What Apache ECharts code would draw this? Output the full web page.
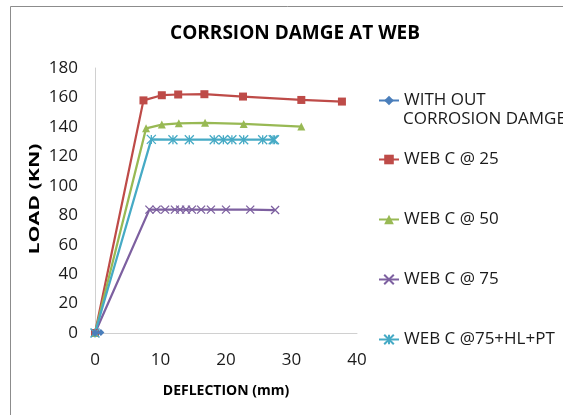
<!DOCTYPE html>
<html><head><meta charset="utf-8">
<script src="https://cdn.jsdelivr.net/npm/echarts@6/dist/echarts.min.js"></script>
<style>html,body{margin:0;padding:0;background:#fff}#c{width:563px;height:415px}</style>
</head><body><div id="c"></div>
<script>
var seriesNames = ['WITH OUT CORROSION DAMGE','WEB C @ 25','WEB C @ 50','WEB C @ 75','WEB C @75+HL+PT'];
var noDamage = [[0,0],[0.9,0.3]];
var web25 = [[0,0],[7.4,158],[10.2,161.5],[12.7,162],[16.7,162.2],[22.6,160.6],[31.5,158.3],[37.7,157.2]];
var web50 = [[0,0],[7.8,139],[10.2,141.6],[12.8,142.4],[16.8,142.8],[22.7,142],[31.5,140.2]];
var web75 = [[0,0],[8.3,83.8],[9.4,83.8],[10.7,83.8],[12.2,83.8],[13,83.8],[13.9,83.8],[14.8,83.8],[16.2,83.8],[17.7,83.8],[20,83.8],[23.7,83.8],[27.5,83.5]];
var web75hl = [[0,0],[8.6,131.5],[11.9,131.3],[14.4,131.3],[18.2,131.3],[19.6,131.3],[20.9,131.3],[22.7,131.3],[25.6,131.3],[27.2,131.3],[27.4,131.3]];
var xTicks = {min:0,max:40,interval:10};
var yTicks = {min:0,max:180,interval:20};

var colors = ['#4a7ebb','#be4b48','#98b954','#7d60a0','#46aac5'];
var FONT = '"Open Sans", sans-serif';
var xSym = 'path://M0,0L10,10M10,0L0,10';
var starSym = 'path://M0,0L10,10M10,0L0,10M5,0L5,10';
var datas = [noDamage, web25, web50, web75, web75hl];
var symbols = ['diamond','rect','triangle',xSym,starSym];
var sizes = [7,8,8,8,9];
var series = seriesNames.map(function(n,i){
  var stroke = i>=3;
  return {
    name:n, type:'line', data:datas[i], smooth:false,
    symbol:symbols[i], symbolSize:sizes[i], showSymbol:true,
    lineStyle:{color:colors[i],width:2.25},
    itemStyle: stroke ? {color:colors[i],borderColor:colors[i],borderWidth:1.3} : {color:colors[i]},
    z: i===0?10:2
  };
});
var legendTops = [92,151,211,271,331];
var legends = seriesNames.map(function(n,i){
  return {
    data:[n], left:378, top:legendTops[i], itemWidth:20, itemHeight:12, itemGap:0, padding:0,
    textStyle:{fontFamily:FONT,fontSize:17,color:'#1a1a1a'},
    formatter: function(name){ return name==='WITH OUT CORROSION DAMGE' ? 'WITH OUT' : name; },
    selectedMode:false
  };
});
var chart = echarts.init(document.getElementById('c'));
chart.setOption({
  animation:false,
  color:colors,
  title:{text:'CORRSION DAMGE AT WEB',left:290,textAlign:'center',top:19,
    textStyle:{fontFamily:FONT,fontSize:19,fontWeight:'bold',color:'#000'}},
  graphic:[
    {type:'rect',shape:{x:10.5,y:6.5,width:600,height:500},style:{fill:'none',stroke:'#8c8c8c',lineWidth:1},silent:true},
    {type:'text',left:403,top:111,style:{text:'CORROSION DAMGE',font:'17px "Open Sans", sans-serif',fill:'#1a1a1a'}},
    {type:'text',x:35,y:199,rotation:Math.PI/2,scaleX:1.42,
      style:{text:'LOAD (KN)',font:'bold 15px "Open Sans", sans-serif',fill:'#000',align:'center',verticalAlign:'middle'}}
  ],
  legend:legends,
  grid:{left:95,right:206,top:68,bottom:82},
  xAxis:{type:'value',min:xTicks.min,max:xTicks.max,interval:xTicks.interval,
    name:'DEFLECTION (mm)',nameLocation:'middle',nameGap:51,
    nameTextStyle:{fontFamily:FONT,fontSize:14,fontWeight:'bold',color:'#000'},
    axisLine:{lineStyle:{color:'#d0d0d0',width:1}},axisTick:{show:false},splitLine:{show:false},
    axisLabel:{fontFamily:FONT,fontSize:17,color:'#1a1a1a',margin:19}},
  yAxis:{type:'value',min:yTicks.min,max:yTicks.max,interval:yTicks.interval,
    axisLine:{show:true,lineStyle:{color:'#d0d0d0',width:1}},axisTick:{show:false},splitLine:{show:false},
    axisLabel:{fontFamily:FONT,fontSize:17,color:'#1a1a1a',margin:17}},
  series:series
});
</script></body></html>
